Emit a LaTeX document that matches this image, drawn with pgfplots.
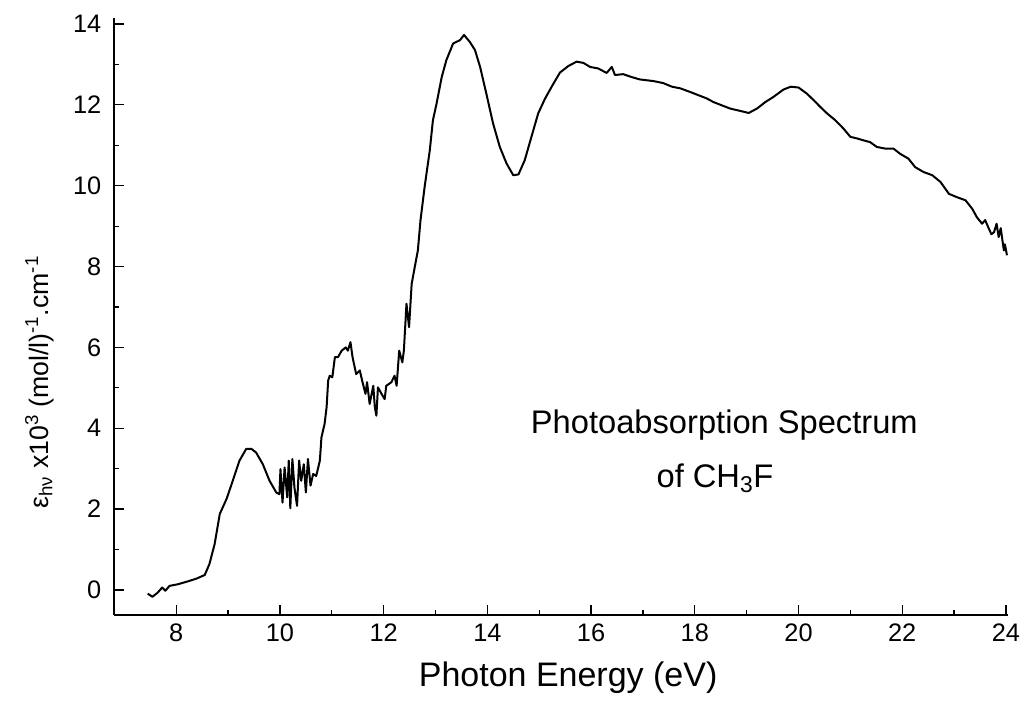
\documentclass[border=0pt]{standalone}
\usepackage{fontspec}
\setmainfont{Liberation Sans}
\usepackage{pgfplots}
\pgfplotsset{compat=1.18}

\begin{document}
\begin{tikzpicture}
% frame of the page: 1021x706 px at 0.75pt per px, plot area origin at (0,0)
\useasboundingbox (-85.5pt,-68.25pt) rectangle (680.25pt,461.25pt);
\begin{axis}[
    at={(0,0)}, anchor=south west,
    scale only axis,
    width=670.5pt, height=447.75pt,
    xmin=6.8, xmax=24.04,
    ymin=-0.62, ymax=14.15,
    axis x line*=bottom, axis y line*=left,
    axis line style={-, line width=0.9pt},
    tick align=inside,
    major tick length=7.5pt, minor tick length=3.75pt,
    tick style={black, line width=0.9pt},
    xtick={8,10,...,24}, ytick={0,2,...,14},
    minor x tick num=1, minor y tick num=1,
    /pgf/number format/assume math mode=true,
    tick label style={font=\fontsize{19}{22}\selectfont},
    xticklabel style={yshift=-3pt},
    yticklabel style={xshift=-6pt},
    every axis x label/.style={at={(rel axis cs:0.508,0)}, yshift=-47pt, anchor=center, font=\fontsize{25.5}{28}\selectfont},
    every axis y label/.style={at={(rel axis cs:0,0.39)}, xshift=-56pt, rotate=90, anchor=center, font=\fontsize{20}{23}\selectfont},
    xlabel={Photon Energy (eV)},
    ylabel={ε\textsubscript{hν} x10\textsuperscript{3} (mol/l)\textsuperscript{-1}.cm\textsuperscript{-1}},
]
\addplot[black, line width=1.5pt, line join=round] coordinates {
(7.45,-0.09) (7.54,-0.17) (7.64,-0.07) (7.73,0.06) (7.79,-0.02) (7.87,0.10)
(8.03,0.14) (8.22,0.21) (8.39,0.28) (8.55,0.37) (8.64,0.64) (8.74,1.13)
(8.84,1.88) (8.97,2.25) (9.09,2.70) (9.22,3.20) (9.35,3.49) (9.45,3.49)
(9.54,3.40) (9.67,3.11) (9.80,2.70) (9.93,2.41) (9.99,2.37)
(10.01,2.99) (10.05,2.16) (10.09,3.03) (10.14,2.29) (10.17,3.20) (10.20,2.02)
(10.24,3.24) (10.28,2.53) (10.33,2.08) (10.37,3.20) (10.41,2.70) (10.46,3.11)
(10.50,2.41) (10.54,3.24) (10.59,2.58) (10.64,2.87) (10.70,2.82) (10.77,3.20)
(10.80,3.77) (10.83,3.94) (10.86,4.10) (10.90,4.52) (10.93,5.18) (10.96,5.30)
(11.01,5.26) (11.06,5.76) (11.12,5.76) (11.19,5.92) (11.27,6.00) (11.31,5.92)
(11.36,6.13) (11.40,5.76) (11.47,5.34) (11.54,5.43) (11.60,5.10) (11.65,4.85)
(11.68,5.14) (11.73,4.60) (11.80,5.05) (11.83,4.52) (11.86,4.31) (11.89,5.01)
(11.96,4.85) (12.02,4.72) (12.05,5.05) (12.15,5.14) (12.21,5.30) (12.25,5.05)
(12.30,5.92) (12.36,5.63) (12.39,5.92) (12.44,7.08) (12.49,6.50) (12.54,7.57)
(12.60,7.99) (12.66,8.40) (12.71,9.14) (12.79,9.97) (12.89,10.88) (12.95,11.62)
(13.02,12.03) (13.12,12.69) (13.21,13.11) (13.34,13.52) (13.47,13.60) (13.55,13.73)
(13.66,13.56) (13.76,13.36) (13.86,12.94) (13.98,12.28) (14.11,11.54) (14.24,10.96)
(14.37,10.55) (14.50,10.26) (14.60,10.28) (14.72,10.63) (14.85,11.21) (14.98,11.79)
(15.11,12.15) (15.24,12.45) (15.40,12.80) (15.56,12.96) (15.72,13.07) (15.85,13.04)
(15.98,12.94) (16.14,12.90) (16.30,12.79) (16.40,12.94) (16.46,12.74) (16.62,12.76)
(16.78,12.69) (16.94,12.63) (17.07,12.61) (17.20,12.59) (17.39,12.54) (17.56,12.45)
(17.72,12.41) (17.91,12.32) (18.07,12.24) (18.23,12.16) (18.36,12.07) (18.52,11.99)
(18.68,11.91) (18.88,11.85) (19.04,11.80) (19.20,11.91) (19.36,12.07) (19.52,12.20)
(19.71,12.38) (19.85,12.45) (20.00,12.43) (20.16,12.28) (20.29,12.12) (20.42,11.95)
(20.55,11.79) (20.71,11.62) (20.87,11.41) (21.00,11.21) (21.13,11.17) (21.26,11.12)
(21.38,11.08) (21.51,10.96) (21.67,10.92) (21.83,10.92) (21.96,10.79) (22.12,10.67)
(22.25,10.46) (22.41,10.34) (22.58,10.26) (22.74,10.09) (22.90,9.80) (23.05,9.72)
(23.22,9.64) (23.35,9.43) (23.44,9.22) (23.54,9.06) (23.60,9.15) (23.67,8.94)
(23.72,8.80) (23.77,8.85) (23.82,9.06) (23.86,8.73) (23.90,8.95) (23.96,8.40)
(23.98,8.55) (24.02,8.28)
};
\node[anchor=base, font=\fontsize{24.5}{28}\selectfont] at (axis cs:18.57,3.87) {Photoabsorption Spectrum};
\node[anchor=base, font=\fontsize{24.5}{28}\selectfont] at (axis cs:18.39,2.53) {of CH\textsubscript{3}F};
\end{axis}
\end{tikzpicture}
\end{document}
